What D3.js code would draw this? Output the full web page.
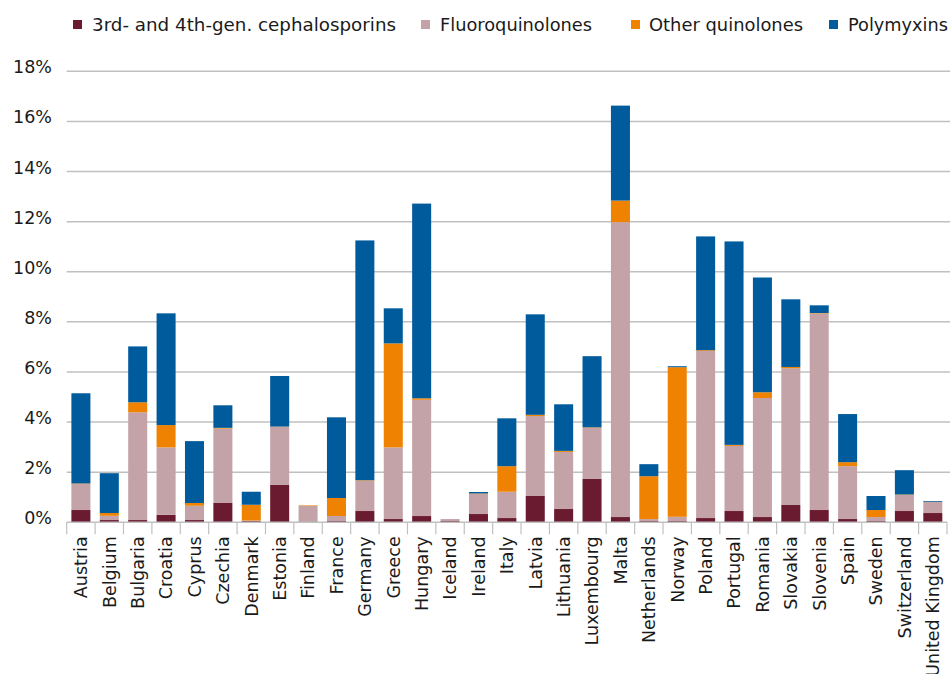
<!DOCTYPE html>
<html>
<head>
<meta charset="utf-8">
<script src="https://cdn.jsdelivr.net/npm/d3@7"></script>
<style>
  html, body { margin: 0; padding: 0; background: #fff; }
  svg { display: block; font-family: "DejaVu Sans", Verdana, sans-serif; }
</style>
</head>
<body>
<svg id="chart" width="950" height="674"></svg>
<script>
const countries = ["Austria","Belgium","Bulgaria","Croatia","Cyprus","Czechia","Denmark","Estonia","Finland","France","Germany","Greece","Hungary","Iceland","Ireland","Italy","Latvia","Lithuania","Luxembourg","Malta","Netherlands","Norway","Poland","Portugal","Romania","Slovakia","Slovenia","Spain","Sweden","Switzerland","United Kingdom"];
const seriesNames = ["3rd- and 4th-gen. cephalosporins","Fluoroquinolones","Other quinolones","Polymyxins"];
const cephalosporins = [0.49,0.09,0.09,0.30,0.09,0.77,0.05,1.49,0.03,0.05,0.45,0.13,0.25,0.05,0.33,0.17,1.05,0.53,1.73,0.21,0.05,0.05,0.17,0.45,0.21,0.69,0.49,0.13,0.05,0.45,0.37];
const fluoroquinolones = [1.04,0.17,4.30,2.69,0.57,2.97,0.02,2.32,0.63,0.20,1.21,2.86,4.64,0.08,0.80,1.05,3.19,2.28,2.04,11.77,0.08,0.17,6.67,2.60,4.75,5.46,7.84,2.11,0.16,0.64,0.44];
const otherQuinolones = [0.02,0.11,0.40,0.89,0.11,0.03,0.63,0.01,0.02,0.72,0.02,4.15,0.06,0.00,0.02,1.02,0.05,0.04,0.02,0.86,1.71,5.97,0.03,0.04,0.23,0.05,0.02,0.16,0.28,0.02,0.01];
const polymyxins = [3.60,1.59,2.23,4.46,2.47,0.90,0.52,2.02,0.00,3.22,9.57,1.40,7.77,0.00,0.06,1.91,4.01,1.86,2.84,3.79,0.48,0.04,4.54,8.12,4.58,2.70,0.31,1.92,0.56,0.97,0.03];
const yTicks = [0,2,4,6,8,10,12,14,16,18];
const colors = ["#6b1b30","#c4a3a8","#ef8200","#005b9d"];

const svg = d3.select("#chart");
const mLeft = 66.7, mRight = 947, mTop = 71.3, mBottom = 522.3;

const keys = ["c","f","o","p"];
const rows = countries.map((c,i) => ({country:c, c:cephalosporins[i], f:fluoroquinolones[i], o:otherQuinolones[i], p:polymyxins[i]}));
const stacked = d3.stack().keys(keys)(rows);

const x = d3.scaleBand().domain(countries).range([mLeft, mRight]).paddingInner(0.33).paddingOuter(0.165);
const y = d3.scaleLinear().domain([0,18]).range([mBottom, mTop]);

// gridlines
svg.append("g").selectAll("line").data(yTicks.filter(t=>t>0)).join("line")
  .attr("x1", mLeft).attr("x2", 950)
  .attr("y1", d=>y(d)).attr("y2", d=>y(d))
  .attr("stroke", "#c0c0c0").attr("stroke-width", 1.5);

// y labels
svg.append("g").selectAll("text").data(yTicks).join("text")
  .attr("x", 52).attr("y", d=>y(d) - 3)
  .attr("text-anchor","end").attr("dominant-baseline","middle")
  .attr("font-size", 17.5).attr("fill","#1a1a1a")
  .text(d=>d+"%");

// bars
svg.append("g").selectAll("g").data(stacked).join("g")
  .attr("fill", (d,i)=>colors[i])
  .selectAll("rect").data(d=>d).join("rect")
  .attr("x", d=>x(d.data.country))
  .attr("width", x.bandwidth())
  .attr("y", d=>y(d[1]))
  .attr("height", d=>Math.max(0, y(d[0]) - y(d[1])));

// axis baseline and separators
const bounds = countries.map(c => x(c) - x.step()*x.paddingInner()/2);
bounds.push(mRight);
svg.append("line").attr("x1", mLeft).attr("x2", mRight).attr("y1", mBottom).attr("y2", mBottom)
  .attr("stroke","#c0c0c0").attr("stroke-width",1.5);
svg.append("g").selectAll("line").data(bounds).join("line")
  .attr("x1", d=>d).attr("x2", d=>d).attr("y1", mBottom).attr("y2", mBottom+12)
  .attr("stroke","#c0c0c0").attr("stroke-width",1.2);

// x labels
svg.append("g").selectAll("text").data(countries).join("text")
  .attr("transform", c=>`translate(${x(c)+x.bandwidth()/2},${mBottom+14}) rotate(-90)`)
  .attr("text-anchor","end").attr("dy","0.36em")
  .attr("font-size", 17.5).attr("fill","#1a1a1a")
  .text(c=>c);

// legend
const legendPos = [{mx:73, tx:92, w:304},{mx:421, tx:440, w:152},{mx:631, tx:649, w:154},{mx:829, tx:848, w:100}];
const lg = svg.append("g");
seriesNames.forEach((name,i) => {
  const p = legendPos[i];
  lg.append("rect").attr("x", p.mx).attr("y", 20).attr("width", 9).attr("height", 9).attr("fill", colors[i]);
  lg.append("text").attr("x", p.tx).attr("y", 30.5)
    .attr("font-size", 17).attr("fill","#1a1a1a")
    .attr("textLength", p.w).attr("lengthAdjust","spacingAndGlyphs")
    .text(name);
});
</script>
</body>
</html>
